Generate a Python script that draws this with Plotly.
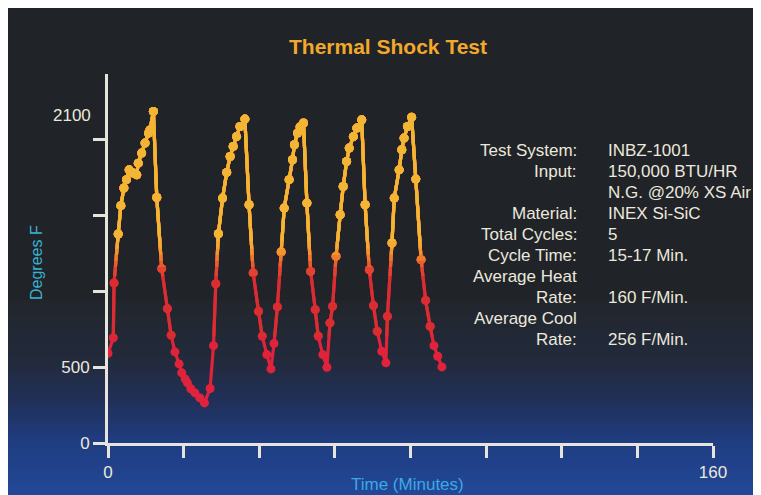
import plotly.graph_objects as go

# ---------------- data ----------------
time_min = [0, 1.4, 1.6, 2.7, 3.4, 4.2, 4.9, 5.6, 6.7, 7.6, 8.0, 8.9, 9.8, 10.7, 11.1, 12.0,
            12.9, 14.2, 15.7, 16.7, 17.7, 18.8, 19.5, 20.4, 21.0, 21.9, 23.0, 24.3, 25.5,
            27.0, 27.9, 28.5, 29.2, 30.3, 31.4, 32.3, 33.1, 34.0, 34.9, 36.2,
            37.3, 38.4, 39.8, 40.8, 42.0, 43.1,
            43.9, 44.8, 45.8, 46.6, 47.9, 48.8, 49.3, 50.1, 50.8, 51.7,
            52.6, 53.6, 54.8, 55.6, 56.8, 57.9,
            58.7, 59.4, 60.3, 61.4, 62.2, 63.1, 63.8, 64.9, 65.8, 67.1,
            68.0, 69.1, 70.2, 71.2, 72.4, 73.5,
            73.9, 75.1, 75.7, 77.0, 77.7, 78.3, 79.2, 80.3,
            81.4, 82.8, 84.0, 85.2, 86.2, 87.2, 88.3]
temp_f = [590, 692, 1054, 1376, 1563, 1679, 1734, 1799, 1778, 1766, 1843, 1909, 1975, 2041, 2062, 2183,
          1617, 1148, 885, 709, 600, 521, 462, 422, 396, 357, 330, 297, 264,
          359, 641, 1049, 1378, 1613, 1782, 1887, 1953, 2018, 2084, 2133,
          1569, 1120, 867, 703, 582, 488,
          655, 896, 1258, 1547, 1734, 1865, 1964, 2041, 2082, 2107,
          1580, 1130, 878, 703, 582, 499,
          791, 900, 1229, 1503, 1689, 1854, 1942, 2018, 2074, 2128,
          1569, 1141, 905, 736, 604, 528,
          834, 1317, 1613, 1799, 1931, 2008, 2084, 2146,
          1738, 1207, 939, 768, 641, 571, 501]

x_tick_vals = [0, 20, 40, 60, 80, 100, 120, 140, 160]
x_tick_text = ["0", "", "", "", "", "", "", "", "160"]
y_tick_vals = [0, 500, 1000, 1500, 2000]
y_tick_text = ["0", "500", "", "", ""]
y_top_label = "2100"

info_labels = ["Test System:", "Input:", "", "Material:", "Total Cycles:", "Cycle Time:",
               "Average Heat", "Rate:", "Average Cool", "Rate:"]
info_values = ["INBZ-1001", "150,000 BTU/HR", "N.G. @20% XS Air", "INEX Si-SiC", "5",
               "15-17 Min.", "", "160 F/Min.", "", "256 F/Min."]

# ---------------- layout geometry ----------------
# The page body has an 8px white margin, so figure pixel = screen pixel - OFF
OFF = 8
W, H = 761, 495
L = 108 - OFF
T = 74 - OFF
R = W - (713 - OFF)
B = H - (443 - OFF)
PW, PH = W - L - R, H - T - B
YMAX = 2430
FONT = "Liberation Sans, Arial, sans-serif"


def pxx(px):
    return (px - OFF - L) / PW


def pxy(py):
    return (H - B - (py - OFF)) / PH


def hex2rgb(h):
    h = h.lstrip('#')
    return [int(h[i:i + 2], 16) for i in (0, 2, 4)]


def mix(c1, c2, f):
    a, b = hex2rgb(c1), hex2rgb(c2)
    return "rgb(%d,%d,%d)" % tuple(round(a[i] + (b[i] - a[i]) * f) for i in range(3))


fig = go.Figure()

# invisible trace that carries the main axes
fig.add_trace(go.Scatter(x=time_min, y=temp_f, mode="lines",
                         line=dict(color="rgba(0,0,0,0)"), hoverinfo="skip",
                         showlegend=False))

# colour bands: band k is drawn on an axis covering [lo_k, top] (clipped at its
# bottom only); higher bands are drawn on top -> vertical colour gradient
band_lows = [0, 700, 1100, 1160, 1200, 1240, 1280, 1330]
band_cols = ["#e0233b", "#da2d32", "#e04430", "#e6602c", "#ec7c2c", "#f0962e",
             "#f2aa32", "#f3b634"]
layout_axes = {}
for i, (lo, col) in enumerate(zip(band_lows, band_cols)):
    k = i + 2
    layout_axes["yaxis%d" % k] = dict(domain=[lo / YMAX, 1], range=[lo, YMAX],
                                      visible=False, anchor="x", fixedrange=True)
    fig.add_trace(go.Scatter(x=time_min, y=temp_f, yaxis="y%d" % k, mode="lines+markers",
                             line=dict(color=col, width=3.2, simplify=False),
                             marker=dict(color=col, size=9, line=dict(width=0)),
                             cliponaxis=True, hoverinfo="skip", showlegend=False))

# background: dark-to-blue gradient
shapes = []
stops = [(0, "#202328"), (300, "#22262c"), (360, "#222a3c"), (400, "#21305a"),
         (440, "#1f3d80"), (500, "#23499b")]
shapes.append(dict(type="rect", xref="paper", yref="paper", x0=pxx(0), x1=pxx(W + 20),
                   y0=pxy(0), y1=pxy(300), fillcolor=stops[0][1], line=dict(width=0),
                   layer="below"))
step = 3
py = 300
while py < H + 10:
    c = stops[-1][1]
    for j in range(len(stops) - 1):
        if stops[j][0] <= py <= stops[j + 1][0]:
            f = (py - stops[j][0]) / (stops[j + 1][0] - stops[j][0])
            c = mix(stops[j][1], stops[j + 1][1], f)
            break
    shapes.append(dict(type="rect", xref="paper", yref="paper", x0=pxx(0), x1=pxx(W + 20),
                       y0=pxy(py + step + 0.5), y1=pxy(py), fillcolor=c,
                       line=dict(width=0), layer="below"))
    py += step

AX = "#e6e4dc"
TXT = "#ece8dc"
CYAN = "#38b2d2"

annotations = [
    dict(text="<b>Thermal Shock Test</b>", xref="paper", yref="paper", x=pxx(388), y=pxy(46),
         showarrow=False, font=dict(family=FONT, size=21, color="#f2a82a"),
         xanchor="center", yanchor="middle"),
    dict(text="Degrees F", xref="paper", yref="paper", x=pxx(36), y=pxy(263), textangle=-90,
         showarrow=False, font=dict(family=FONT, size=16, color=CYAN),
         xanchor="center", yanchor="middle"),
    dict(text="Time (Minutes)", xref="paper", yref="paper", x=pxx(407), y=pxy(484),
         showarrow=False, font=dict(family=FONT, size=17, color="#3aaae6"),
         xanchor="center", yanchor="middle"),
    dict(text=y_top_label, xref="paper", yref="y", x=0, y=2160, xshift=-15,
         showarrow=False, font=dict(family=FONT, size=17, color=TXT),
         xanchor="right", yanchor="middle"),
]
row_y0, row_dy = 150, 21.1
for i, (lab, val) in enumerate(zip(info_labels, info_values)):
    yy = pxy(row_y0 + i * row_dy)
    if lab:
        annotations.append(dict(text=lab, xref="paper", yref="paper", x=pxx(579), y=yy,
                                showarrow=False, xanchor="right", yanchor="middle",
                                font=dict(family=FONT, size=17, color=TXT)))
    if val:
        annotations.append(dict(text=val, xref="paper", yref="paper", x=pxx(606), y=yy,
                                showarrow=False, xanchor="left", yanchor="middle",
                                font=dict(family=FONT, size=17, color=TXT)))

fig.update_layout(
    width=W, height=H,
    margin=dict(l=L, r=R, t=T, b=B),
    paper_bgcolor="#202328",
    plot_bgcolor="rgba(0,0,0,0)",
    showlegend=False,
    shapes=shapes,
    annotations=annotations,
    xaxis=dict(range=[0, 160], showgrid=False, zeroline=False, showline=True,
               linecolor=AX, linewidth=3, ticks="outside", ticklen=12, tickwidth=3,
               tickcolor=AX, tickvals=x_tick_vals, ticktext=x_tick_text,
               tickfont=dict(family=FONT, size=17, color=TXT), anchor="y",
               fixedrange=True),
    yaxis=dict(range=[0, YMAX], domain=[0, 1], showgrid=False, zeroline=False,
               showline=True, linecolor=AX, linewidth=3, ticks="outside", ticklen=12,
               tickwidth=3, tickcolor=AX, tickvals=y_tick_vals, ticktext=y_tick_text,
               tickfont=dict(family=FONT, size=17, color=TXT), fixedrange=True),
    **layout_axes,
)

fig.write_html("out.html")
